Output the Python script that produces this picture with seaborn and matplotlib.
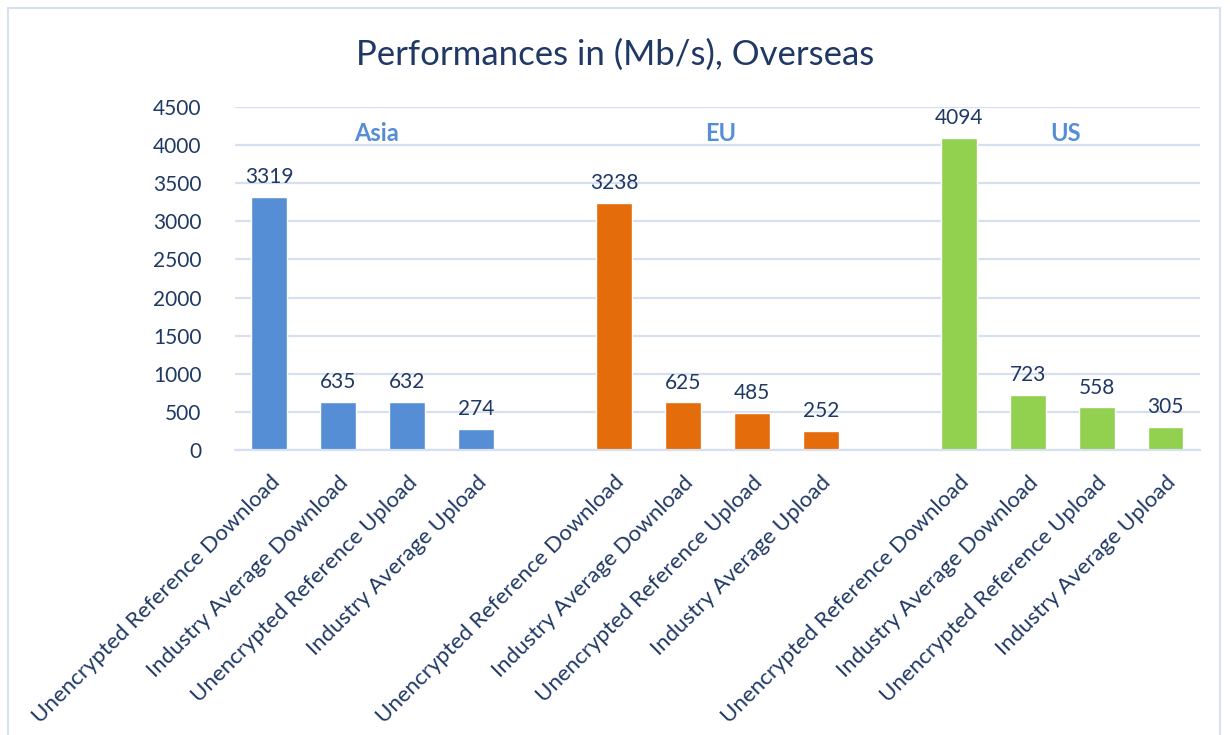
import matplotlib
matplotlib.use("Agg")
import matplotlib.pyplot as plt
from matplotlib.patches import Rectangle
import seaborn as sns
import pandas as pd

# data
regions = ["Asia", "EU", "US"]
categories = ["Unencrypted Reference Download", "Industry Average Download",
              "Unencrypted Reference Upload", "Industry Average Upload"]
asia_vals = [3319, 635, 632, 274]
eu_vals = [3238, 625, 485, 252]
us_vals = [4094, 723, 558, 305]
yticks = [0, 500, 1000, 1500, 2000, 2500, 3000, 3500, 4000, 4500]

colors = ["#558ED5", "#E46C0A", "#92D050"]
text_color = "#1F3864"
grid_color = "#D6E0F0"

rows = []
for g, (reg, vals) in enumerate(zip(regions, [asia_vals, eu_vals, us_vals])):
    for i, (cat, v) in enumerate(zip(categories, vals)):
        # one empty slot between region groups, like the blank Excel categories
        rows.append({"pos": g * 5 + i, "region": reg, "category": cat, "value": v})
df = pd.DataFrame(rows)

sns.set_theme(style="white")
plt.rcParams["font.family"] = ["Lato", "DejaVu Sans"]

fig = plt.figure(figsize=(12.3, 7.35), dpi=100)
ax = fig.add_axes([0.191, 0.3878, 0.7846, 0.4666])

sns.barplot(data=df, x="pos", y="value", hue="region", palette=colors,
            native_scale=True, width=0.52, dodge=False, legend=False,
            saturation=1, ax=ax)

for cont in ax.containers:
    ax.bar_label(cont, fmt="%d", padding=7, fontsize=15, color=text_color)

ax.set_xlim(-0.5, 13.5)
ax.set_ylim(0, 4500)
ax.set_yticks(yticks)
ax.set_yticklabels([str(t) for t in yticks], fontsize=15, color=text_color)
ax.set_xticks(df["pos"])
ax.set_xticklabels(df["category"], rotation=45, ha="right", rotation_mode="anchor",
                   fontsize=16, color=text_color)
ax.tick_params(axis="y", length=0, pad=24)
ax.tick_params(axis="x", length=0, pad=16)
ax.set_xlabel("")
ax.set_ylabel("")
ax.yaxis.grid(True, color=grid_color, linewidth=1.6)
ax.set_axisbelow(True)
for side in ["top", "right", "left"]:
    ax.spines[side].set_visible(False)
ax.spines["bottom"].set_color(grid_color)
ax.spines["bottom"].set_linewidth(1.6)

# group labels
for g, reg in enumerate(regions):
    ax.text(g * 5 + 1.55, 4150, reg, ha="center", va="center", fontsize=17,
            fontweight="bold", color="#558ED5")

fig.text(0.5, 0.925, "Performances in (Mb/s), Overseas", ha="center", va="center",
         fontsize=25, color=text_color)

# light chart frame
fig.patches.append(Rectangle((8 / 1230, -0.01), 1212 / 1230, 1 - 8 / 735 + 0.01,
                             transform=fig.transFigure, fill=False,
                             edgecolor="#D6E0F0", linewidth=1.5))

fig.savefig("out.png", dpi=100)
